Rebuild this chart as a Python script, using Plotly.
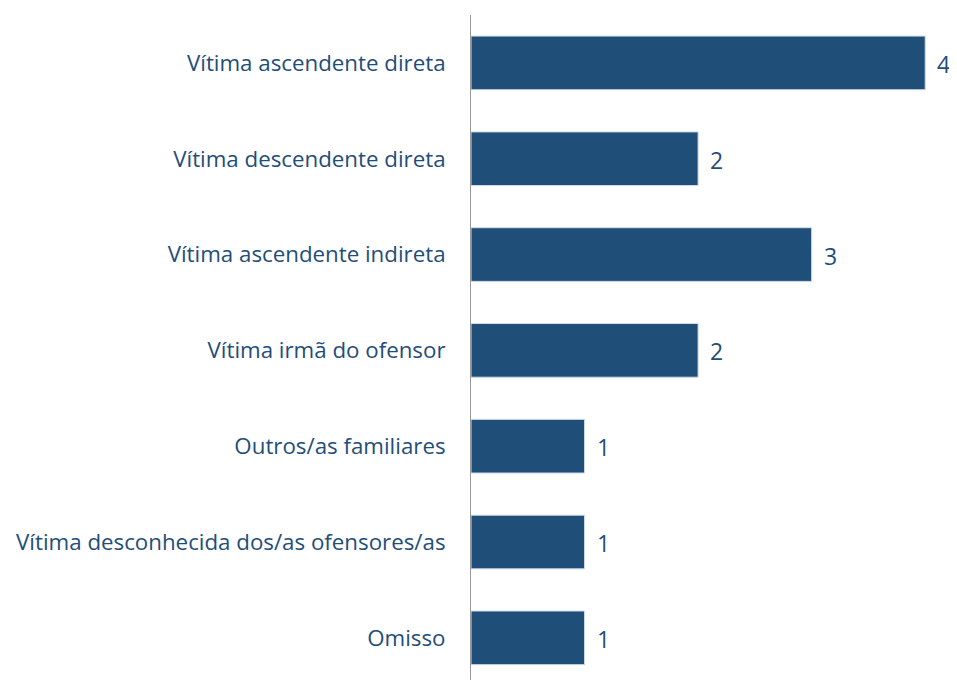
import plotly.graph_objects as go

categories = [
    "Vítima ascendente direta",
    "Vítima descendente direta",
    "Vítima ascendente indireta",
    "Vítima irmã do ofensor",
    "Outros/as familiares",
    "Vítima desconhecida dos/as ofensores/as",
    "Omisso",
]
values = [4, 2, 3, 2, 1, 1, 1]

color = "#1f4e79"

fig = go.Figure(go.Bar(
    y=categories,
    x=values,
    orientation="h",
    width=0.56,
    marker=dict(color=color, line=dict(color="#d0dbe8", width=1)),
    hoverinfo="x+y",
))

for c, v in zip(categories, values):
    fig.add_annotation(
        x=v, y=c, text=str(v), showarrow=False,
        xanchor="left", yanchor="middle", xshift=10, yshift=-1,
        font=dict(family="Open Sans", size=23, color=color),
    )

fig.update_layout(
    width=949,
    height=672,
    margin=dict(l=463, r=0, t=7, b=0, autoexpand=False),
    plot_bgcolor="white",
    paper_bgcolor="white",
    showlegend=False,
    font=dict(family="Open Sans", size=22.3, color=color),
    xaxis=dict(range=[0, 4.28], visible=False, automargin=False),
    yaxis=dict(
        range=[6.44, -0.5],
        automargin=False,
        showline=True,
        linecolor="#999999",
        linewidth=1,
        ticks="",
        ticklabelstandoff=20,
        showgrid=False,
        tickfont=dict(family="Open Sans", size=22.3, color=color),
    ),
)

fig.write_html("out.html")
